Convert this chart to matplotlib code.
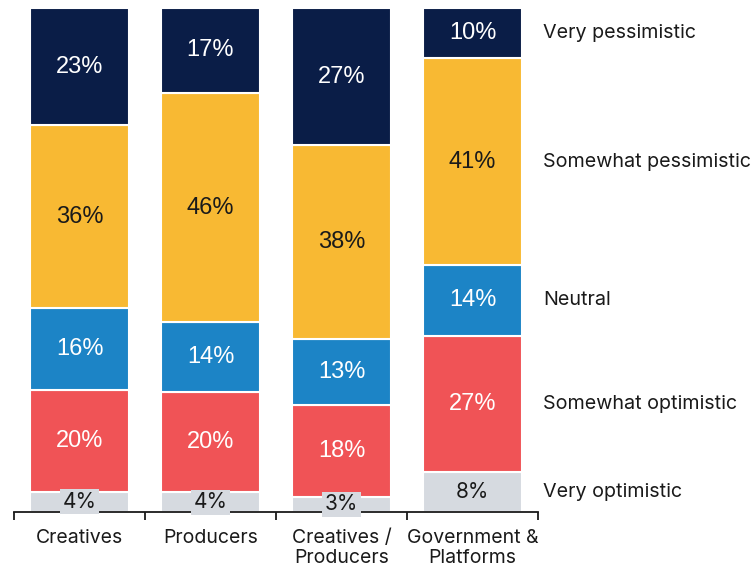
import matplotlib
matplotlib.use("Agg")
import matplotlib.pyplot as plt
import numpy as np

categories = ["Creatives", "Producers", "Creatives /\nProducers", "Government &\nPlatforms"]
levels = ["Very optimistic", "Somewhat optimistic", "Neutral", "Somewhat pessimistic", "Very pessimistic"]
very_optimistic = [4, 4, 3, 8]
somewhat_optimistic = [20, 20, 18, 27]
neutral = [16, 14, 13, 14]
somewhat_pessimistic = [36, 46, 38, 41]
very_pessimistic = [23, 17, 27, 10]

series = [very_optimistic, somewhat_optimistic, neutral, somewhat_pessimistic, very_pessimistic]
colors = ["#d6dae0", "#f05356", "#1c84c6", "#f8b933", "#0a1d47"]
text_colors = ["#1a1a1a", "white", "white", "#1a1a1a", "white"]

fig = plt.figure(figsize=(7.53, 5.68), dpi=100)
ax = fig.add_axes([14/753, 1-512/568, (538-14)/753, (512-8)/568])

data = np.array(series, dtype=float)
totals = data.sum(axis=0)
shares = data / totals * 100
x = np.arange(len(categories))
bottom = np.zeros(len(categories))
label_font = "Inter"
for i, (vals, sh) in enumerate(zip(series, shares)):
    bars = ax.bar(x, sh, bottom=bottom, width=0.76, color=colors[i],
                  edgecolor="white", linewidth=1.5, zorder=2)
    for j, b in enumerate(bars):
        yc = bottom[j] + sh[j] / 2
        if i == 0:
            ax.text(x[j], yc, f"{vals[j]}%", ha="center", va="center",
                    fontsize=15, color=text_colors[i], family=label_font, zorder=5,
                    bbox=dict(boxstyle="square,pad=0.12", fc=colors[i], ec="none"))
        else:
            ax.text(x[j], yc, f"{vals[j]}%", ha="center", va="center",
                    fontsize=17, color=text_colors[i], family="Liberation Sans", zorder=5)
    bottom += sh

# right-side level labels aligned with the last bar
last = len(categories) - 1
cum = 0
for i, sh in enumerate(shares[:, last]):
    yc = cum + sh / 2
    ax.annotate(levels[i], xy=(3.5, yc), xytext=(3.5, 0), textcoords="offset points",
                ha="left", va="center", fontsize=14.2, family=label_font, color="#1a1a1a",
                annotation_clip=False)
    cum += sh

ax.set_xlim(-0.5, 3.5)
ax.set_ylim(0, 100)
for s in ["top", "right", "left"]:
    ax.spines[s].set_visible(False)
ax.spines["bottom"].set_linewidth(1.3)
ax.spines["bottom"].set_color("#1a1a1a")
ax.spines["bottom"].set_zorder(3)
ax.set_yticks([])
ax.set_xticks(x)
ax.set_xticklabels(categories, fontsize=14, family=label_font, color="#1a1a1a", linespacing=1.15)
ax.tick_params(axis="x", which="major", length=0, pad=12)
ax.set_xticks(np.arange(-0.5, 4, 1), minor=True)
ax.tick_params(axis="x", which="minor", length=6, width=1.3, color="#1a1a1a", direction="out")

fig.savefig("out.png", dpi=100)
